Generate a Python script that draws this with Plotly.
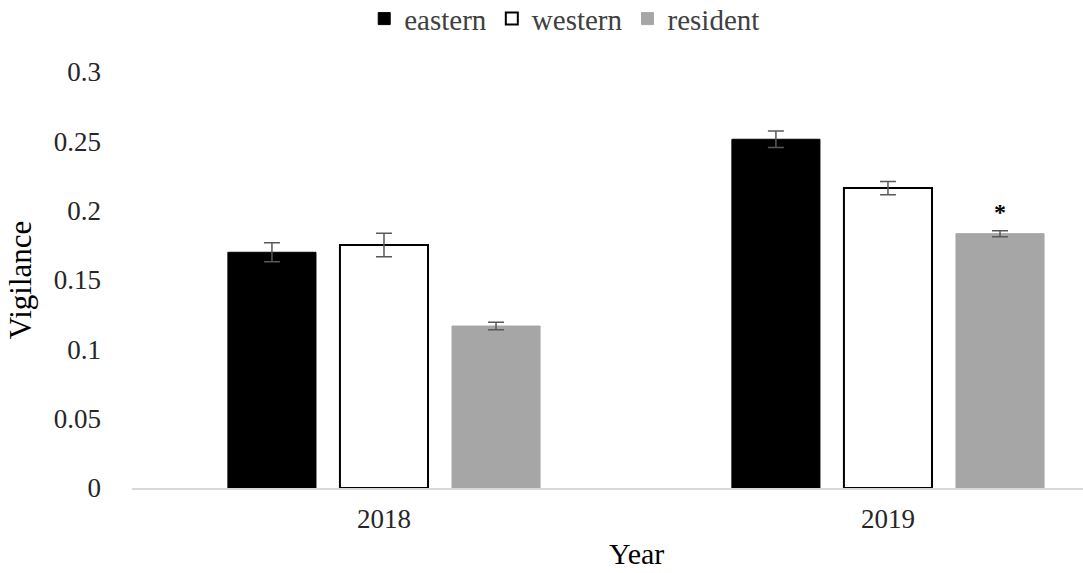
import plotly.graph_objects as go

years = ["2018", "2019"]
eastern = [0.170, 0.2515]
eastern_err = [0.0068, 0.0059]
western = [0.1752, 0.2163]
western_err = [0.0085, 0.0048]
resident = [0.1168, 0.1834]
resident_err = [0.0027, 0.0022]
y_ticks = [0, 0.05, 0.1, 0.15, 0.2, 0.25, 0.3]
y_ticktext = ["0", "0.05", "0.1", "0.15", "0.2", "0.25", "0.3"]

FONT = "Liberation Serif, Times New Roman, serif"
err_style = dict(type="data", thickness=1.5, width=8, color="#595959")

fig = go.Figure()
fig.add_trace(go.Bar(name="eastern", x=years, y=eastern,
                     marker=dict(color="#000000", line=dict(color="#000000", width=1)),
                     error_y=dict(array=eastern_err, **err_style)))
fig.add_trace(go.Bar(name="western", x=years, y=western,
                     marker=dict(color="#ffffff", line=dict(color="#000000", width=2)),
                     error_y=dict(array=western_err, **err_style)))
fig.add_trace(go.Bar(name="resident", x=years, y=resident,
                     marker=dict(color="#a6a6a6", line=dict(color="#a6a6a6", width=1)),
                     error_y=dict(array=resident_err, **err_style)))

fig.add_annotation(x=1, y=resident[1] + resident_err[1], text="<b>*</b>",
                   showarrow=False, xshift=112, yshift=4, yanchor="bottom",
                   font=dict(family=FONT, size=24, color="#000000"))

# x-axis title (centred on the full, partly cropped, plot area as in the reference)
fig.add_annotation(x=0.530, xref="paper", y=-0.202, yref="paper", text="Year",
                   showarrow=False, xanchor="center", yanchor="bottom",
                   font=dict(family=FONT, size=30, color="#000000"))

fig.update_layout(
    width=1083, height=573,
    margin=dict(l=132, r=0, t=72, b=85, autoexpand=False),
    paper_bgcolor="white", plot_bgcolor="white",
    barmode="group", bargap=0.333, bargroupgap=0.214,
    font=dict(family=FONT, color="#000000"),
    legend=dict(orientation="h", x=0.455, xanchor="center", xref="paper",
                y=1.128, yref="paper", yanchor="middle",
                font=dict(family=FONT, size=29, color="#404040"),
                itemwidth=30, traceorder="normal"),
    xaxis=dict(type="category", range=[-0.5, 1.387], showline=True, linecolor="#d9d9d9",
               linewidth=1.5, ticks="", automargin=False,
               tickfont=dict(family=FONT, size=27, color="#262626"),
               ticklabelstandoff=6,
               showgrid=False, zeroline=False),
    yaxis=dict(range=[0, 0.3], tickvals=y_ticks, ticktext=y_ticktext, showline=False,
               showgrid=False, zeroline=False, ticks="", automargin=False,
               tickfont=dict(family=FONT, size=27, color="#262626"),
               ticklabelstandoff=30,
               title=dict(text="Vigilance", font=dict(family=FONT, size=31, color="#000000"), standoff=12)),
)

fig.write_html("out.html", config={"displayModeBar": False},
               post_script="document.body.style.margin='0';")
